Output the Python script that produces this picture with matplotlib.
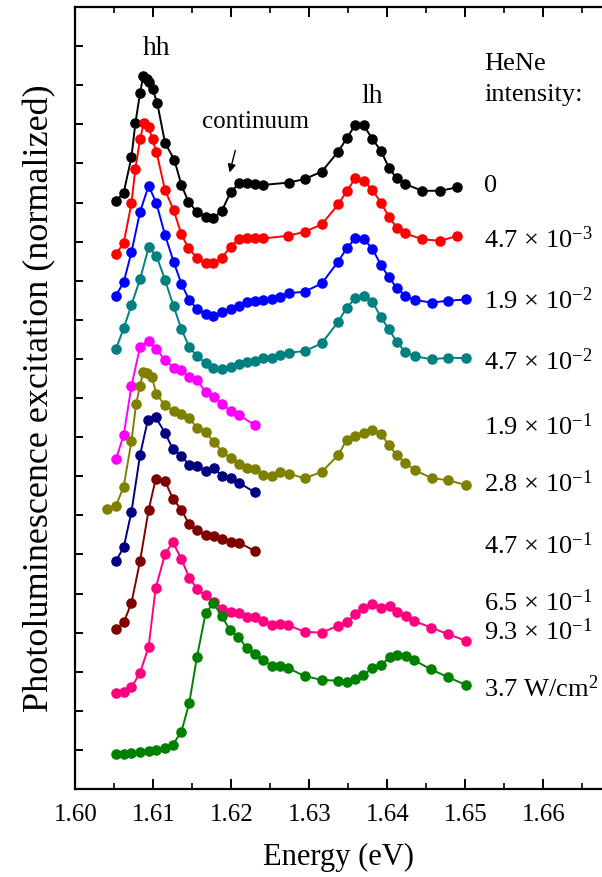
import matplotlib
matplotlib.use("Agg")
import matplotlib.pyplot as plt
from matplotlib.ticker import MultipleLocator, NullFormatter

plt.rcParams["font.family"] = ["Liberation Serif", "DejaVu Serif"]
plt.rcParams["mathtext.fontset"] = "custom"
plt.rcParams["mathtext.rm"] = "Liberation Serif"
plt.rcParams["mathtext.it"] = "Liberation Serif:italic"
plt.rcParams["mathtext.bf"] = "Liberation Serif:bold"

# ---- PLE spectra, offset vertically (normalized units) ----
e_0 = [1.6052, 1.6062, 1.6072, 1.6077, 1.6083, 1.6087, 1.6092, 1.6095, 1.6099, 1.6105,
       1.6115, 1.6127, 1.6136, 1.6145, 1.6156, 1.6167, 1.6177, 1.6188, 1.6199, 1.6210,
       1.6220, 1.6230, 1.6241, 1.6274, 1.6294, 1.6316, 1.6337, 1.6348, 1.6359, 1.6370,
       1.6381, 1.6392, 1.6402, 1.6412, 1.6423, 1.6445, 1.6468, 1.6490]
y_0 = [15.04, 15.25, 16.16, 17.03, 17.79, 18.24, 18.16, 18.08, 17.90, 17.55,
       16.53, 16.09, 15.45, 15.02, 14.76, 14.64, 14.60, 14.79, 15.26, 15.49,
       15.49, 15.47, 15.45, 15.51, 15.60, 15.79, 16.30, 16.64, 16.99, 16.97,
       16.62, 16.32, 15.89, 15.62, 15.47, 15.30, 15.30, 15.39]

e_47m3 = [1.6052, 1.6062, 1.6072, 1.6077, 1.6083, 1.6088, 1.6094, 1.6099, 1.6104, 1.6115,
          1.6126, 1.6136, 1.6145, 1.6156, 1.6167, 1.6177, 1.6188, 1.6199, 1.6210, 1.6220,
          1.6230, 1.6241, 1.6273, 1.6294, 1.6316, 1.6337, 1.6348, 1.6359, 1.6370, 1.6381,
          1.6392, 1.6402, 1.6412, 1.6423, 1.6445, 1.6468, 1.6490]
y_47m3 = [13.68, 13.96, 14.98, 15.86, 16.62, 17.04, 16.92, 16.62, 16.30, 15.32,
          14.81, 14.19, 13.83, 13.59, 13.46, 13.46, 13.59, 13.87, 14.07, 14.08,
          14.08, 14.08, 14.15, 14.25, 14.44, 14.95, 15.29, 15.62, 15.55, 15.32,
          14.99, 14.64, 14.36, 14.21, 14.06, 14.02, 14.15]

e_19m2 = [1.6052, 1.6062, 1.6072, 1.6083, 1.6094, 1.6104, 1.6115, 1.6126, 1.6136, 1.6146,
          1.6156, 1.6167, 1.6177, 1.6188, 1.6199, 1.6210, 1.6220, 1.6230, 1.6241, 1.6252,
          1.6263, 1.6274, 1.6294, 1.6316, 1.6337, 1.6348, 1.6359, 1.6370, 1.6381, 1.6392,
          1.6402, 1.6412, 1.6423, 1.6435, 1.6457, 1.6478, 1.6501]
y_19m2 = [12.62, 12.96, 13.73, 14.76, 15.43, 14.98, 14.17, 13.49, 12.92, 12.51,
          12.28, 12.14, 12.10, 12.19, 12.28, 12.36, 12.45, 12.48, 12.51, 12.53,
          12.59, 12.68, 12.72, 12.93, 13.49, 13.83, 14.08, 14.07, 13.81, 13.40,
          13.09, 12.82, 12.61, 12.51, 12.44, 12.49, 12.52]

e_47m2 = [1.6052, 1.6062, 1.6072, 1.6083, 1.6094, 1.6104, 1.6115, 1.6126, 1.6136, 1.6146,
          1.6156, 1.6167, 1.6177, 1.6188, 1.6199, 1.6210, 1.6220, 1.6230, 1.6241, 1.6252,
          1.6263, 1.6274, 1.6294, 1.6316, 1.6337, 1.6348, 1.6359, 1.6370, 1.6381, 1.6392,
          1.6402, 1.6412, 1.6423, 1.6435, 1.6457, 1.6478, 1.6501]
y_47m2 = [11.25, 11.78, 12.38, 13.04, 13.85, 13.64, 13.02, 12.35, 11.76, 11.31,
          11.07, 10.90, 10.76, 10.74, 10.80, 10.87, 10.91, 10.95, 11.02, 11.03,
          11.10, 11.16, 11.20, 11.40, 11.95, 12.31, 12.55, 12.61, 12.46, 12.06,
          11.76, 11.44, 11.18, 11.07, 10.99, 11.03, 11.02]

e_19m1 = [1.6052, 1.6062, 1.6072, 1.6083, 1.6094, 1.6104, 1.6115, 1.6126, 1.6136, 1.6146,
          1.6156, 1.6167, 1.6178, 1.6188, 1.6199, 1.6210, 1.6230]
y_19m1 = [8.43, 9.05, 10.31, 11.31, 11.47, 11.25, 10.97, 10.78, 10.72, 10.54,
          10.46, 10.16, 10.02, 9.85, 9.67, 9.56, 9.31]

e_28m1 = [1.6041, 1.6052, 1.6062, 1.6072, 1.6078, 1.6083, 1.6087, 1.6092, 1.6098, 1.6104,
          1.6115, 1.6126, 1.6136, 1.6146, 1.6156, 1.6167, 1.6178, 1.6188, 1.6199, 1.6210,
          1.6220, 1.6230, 1.6241, 1.6252, 1.6262, 1.6274, 1.6294, 1.6316, 1.6337, 1.6348,
          1.6359, 1.6370, 1.6381, 1.6392, 1.6402, 1.6412, 1.6423, 1.6435, 1.6457, 1.6478,
          1.6501]
y_28m1 = [7.15, 7.24, 7.73, 8.90, 9.85, 10.31, 10.67, 10.63, 10.54, 10.10,
          9.82, 9.66, 9.59, 9.50, 9.23, 9.12, 8.88, 8.63, 8.47, 8.31,
          8.20, 8.18, 8.03, 8.01, 8.12, 8.06, 7.95, 8.11, 8.54, 8.93,
          9.03, 9.10, 9.18, 9.08, 8.80, 8.54, 8.34, 8.16, 7.95, 7.90,
          7.77]

e_47m1 = [1.6052, 1.6062, 1.6072, 1.6083, 1.6093, 1.6103, 1.6115, 1.6125, 1.6136, 1.6146,
          1.6156, 1.6167, 1.6178, 1.6188, 1.6199, 1.6210, 1.6230]
y_47m1 = [5.83, 6.18, 7.09, 8.54, 9.44, 9.51, 9.11, 8.70, 8.52, 8.29,
          8.26, 8.14, 8.20, 8.01, 7.95, 7.83, 7.59]

e_65m1 = [1.6052, 1.6062, 1.6072, 1.6083, 1.6094, 1.6103, 1.6115, 1.6125, 1.6136, 1.6146,
          1.6156, 1.6167, 1.6178, 1.6188, 1.6199, 1.6210, 1.6230]
y_65m1 = [4.09, 4.26, 4.76, 5.83, 7.14, 7.92, 7.88, 7.43, 7.14, 6.77,
          6.62, 6.50, 6.48, 6.39, 6.33, 6.30, 6.09]

e_93m1 = [1.6052, 1.6062, 1.6072, 1.6083, 1.6094, 1.6103, 1.6115, 1.6125, 1.6136, 1.6146,
          1.6156, 1.6167, 1.6178, 1.6188, 1.6199, 1.6210, 1.6220, 1.6230, 1.6241, 1.6252,
          1.6262, 1.6273, 1.6294, 1.6316, 1.6337, 1.6348, 1.6359, 1.6369, 1.6381, 1.6392,
          1.6403, 1.6413, 1.6424, 1.6434, 1.6456, 1.6478, 1.6501]
y_93m1 = [2.45, 2.47, 2.60, 2.97, 3.64, 5.13, 6.01, 6.32, 5.88, 5.41,
          5.12, 4.95, 4.79, 4.60, 4.52, 4.49, 4.41, 4.41, 4.31, 4.20,
          4.22, 4.19, 4.02, 4.00, 4.18, 4.26, 4.48, 4.64, 4.73, 4.64,
          4.69, 4.52, 4.42, 4.30, 4.13, 3.96, 3.79]

e_37 = [1.6052, 1.6062, 1.6072, 1.6083, 1.6094, 1.6104, 1.6115, 1.6125, 1.6136, 1.6146,
        1.6156, 1.6167, 1.6177, 1.6188, 1.6198, 1.6209, 1.6220, 1.6230, 1.6241, 1.6252,
        1.6262, 1.6273, 1.6294, 1.6316, 1.6337, 1.6348, 1.6359, 1.6369, 1.6381, 1.6392,
        1.6403, 1.6413, 1.6424, 1.6434, 1.6456, 1.6478, 1.6501]
y_37 = [0.90, 0.90, 0.93, 0.95, 0.97, 1.00, 1.04, 1.13, 1.47, 2.19,
        3.38, 4.49, 4.75, 4.42, 4.07, 3.90, 3.60, 3.45, 3.30, 3.15,
        3.15, 3.09, 2.89, 2.79, 2.77, 2.74, 2.81, 2.92, 3.09, 3.17,
        3.37, 3.43, 3.40, 3.30, 3.06, 2.86, 2.66]

series = [
    (e_0, y_0, "#000000"),
    (e_47m3, y_47m3, "#ff0000"),
    (e_19m2, y_19m2, "#0000ff"),
    (e_47m2, y_47m2, "#008080"),
    (e_19m1, y_19m1, "#ff00ff"),
    (e_28m1, y_28m1, "#808000"),
    (e_47m1, y_47m1, "#000080"),
    (e_65m1, y_65m1, "#800000"),
    (e_93m1, y_93m1, "#ff0080"),
    (e_37, y_37, "#008000"),
]

# HeNe intensity labels and their vertical positions (data units)
intensity_labels = ["0", "4.7 × 10$^{-3}$", "1.9 × 10$^{-2}$", "4.7 × 10$^{-2}$",
                    "1.9 × 10$^{-1}$", "2.8 × 10$^{-1}$", "4.7 × 10$^{-1}$",
                    "6.5 × 10$^{-1}$", "9.3 × 10$^{-1}$", "3.7 W/cm$^{2}$"]
label_y = [15.42, 14.04, 12.50, 10.92, 9.26, 7.82, 6.23, 4.76, 4.02, 2.58]

fig = plt.figure(figsize=(6.02, 8.77), dpi=100)
ax = fig.add_axes([0.1251, 0.1003, 0.8749, 0.8917])

for e, y, c in series:
    ax.plot(e, y, "-", color=c, lw=1.4, marker="o", ms=7.6,
            markeredgewidth=0, zorder=3)

ax.set_xlim(1.60, 1.66753)
ax.set_ylim(0, 20)

ax.xaxis.set_major_locator(MultipleLocator(0.01))
ax.xaxis.set_minor_locator(MultipleLocator(0.005))
ax.xaxis.set_major_formatter(plt.FuncFormatter(lambda v, p: f"{v:.2f}"))
ax.yaxis.set_major_locator(MultipleLocator(1))
ax.yaxis.set_major_formatter(NullFormatter())

ax.tick_params(axis="x", which="major", direction="in", length=7, width=1.4,
               top=True, labelsize=18, pad=11)
ax.tick_params(axis="x", which="minor", direction="in", length=4, width=1.2, top=True)
ax.tick_params(axis="y", which="major", direction="in", length=6, width=1.4, right=False)

for side in ("left", "bottom", "top"):
    ax.spines[side].set_linewidth(1.6)
ax.spines["right"].set_visible(False)

ax.set_xlabel("Energy (eV)", fontsize=22, labelpad=12)
ax.set_ylabel("Photoluminescence excitation (normalized)", fontsize=26, labelpad=10)

ax.text(1.6104, 18.95, "hh", fontsize=20, ha="center", va="center")
ax.text(1.6380, 17.72, "lh", fontsize=20, ha="center", va="center")
ax.text(1.6162, 17.07, "continuum", fontsize=18, ha="left", va="center")
ax.annotate("", xy=(1.6197, 15.7), xytext=(1.6206, 16.40),
            arrowprops=dict(arrowstyle="-|>", color="black", lw=1.0,
                            mutation_scale=12))

ax.text(1.6524, 18.55, "HeNe", fontsize=19, ha="left", va="center")
ax.text(1.6524, 17.75, "intensity:", fontsize=19, ha="left", va="center")
for lab, ly in zip(intensity_labels, label_y):
    ax.text(1.6524, ly, lab, fontsize=19, ha="left", va="center")

fig.savefig("out.png", dpi=100)
